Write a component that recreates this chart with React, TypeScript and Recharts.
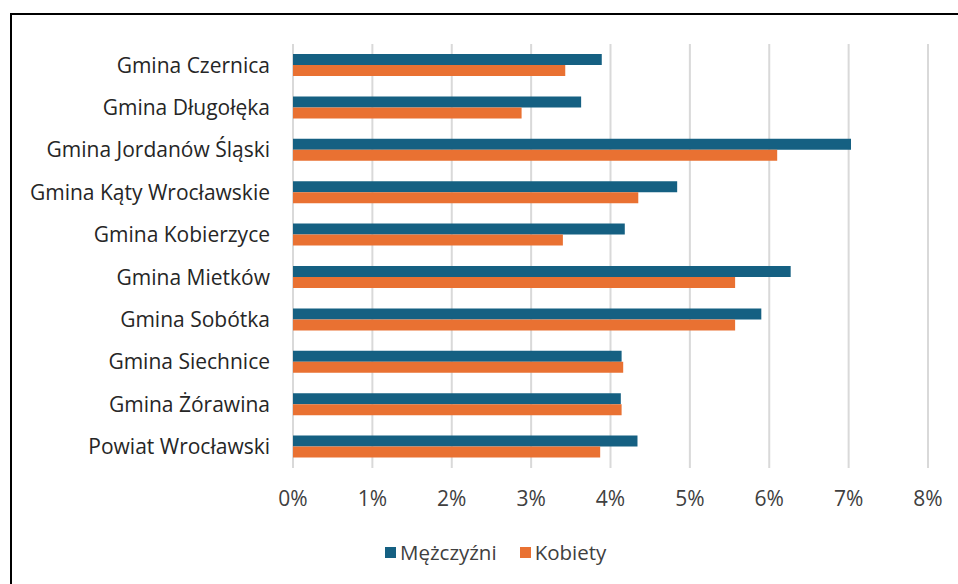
import { Bar, BarChart, CartesianGrid, Legend, XAxis, YAxis } from "recharts";

const gminy = [
  "Gmina Czernica",
  "Gmina Długołęka",
  "Gmina Jordanów Śląski",
  "Gmina Kąty Wrocławskie",
  "Gmina Kobierzyce",
  "Gmina Mietków",
  "Gmina Sobótka",
  "Gmina Siechnice",
  "Gmina Żórawina",
  "Powiat Wrocławski",
];

const mezczyzni = [3.89, 3.63, 7.03, 4.84, 4.18, 6.27, 5.9, 4.14, 4.13, 4.34];
const kobiety = [3.43, 2.88, 6.1, 4.35, 3.4, 5.57, 5.57, 4.16, 4.14, 3.87];

const xTicks = [0, 1, 2, 3, 4, 5, 6, 7, 8];
const seriesOrder = ["m", "k"];

const chartData = gminy.map((name, i) => ({
  name,
  m: mezczyzni[i],
  k: kobiety[i],
}));

const font = "'Open Sans', sans-serif";

function LegendBox(props: any) {
  const items = [...(props.payload || [])].sort(
    (a: any, b: any) => seriesOrder.indexOf(a.dataKey) - seriesOrder.indexOf(b.dataKey)
  );
  return (
    <div style={{ display: "flex", alignItems: "center", fontFamily: font, fontSize: 20.5, color: "#404040" }}>
      {items.map((it: any, i: number) => (
        <div key={i} style={{ display: "flex", alignItems: "center", marginRight: 23 }}>
          <span style={{ display: "inline-block", width: 11, height: 11, background: it.color, marginRight: 4 }} />
          <span>{it.value}</span>
        </div>
      ))}
    </div>
  );
}

export default function App() {
  return (
    <div style={{ position: "fixed", left: 0, top: 0, width: 958, height: 584, overflow: "hidden", background: "#fff" }}>
      <div
        style={{
          position: "absolute",
          left: 10,
          top: 13,
          width: 1100,
          height: 1100,
          border: "2px solid #000",
        }}
      />
      <div style={{ position: "absolute", left: 8, top: 8 }}>
        <BarChart
          width={950}
          height={576}
          data={chartData}
          layout="vertical"
          margin={{ top: 36, right: 30, left: 0, bottom: 76 }}
          barSize={11}
          barGap={0}
        >
          <CartesianGrid horizontal={false} stroke="#d9d9d9" strokeWidth={2} />
          <XAxis
            type="number"
            domain={[0, 8]}
            ticks={xTicks}
            tickFormatter={(v) => `${v}%`}
            axisLine={false}
            tickLine={false}
            tickSize={0}
            tickMargin={23}
            height={40}
            tick={{ fontFamily: font, fontSize: 21, fill: "#404040" }}
          />
          <YAxis
            type="category"
            dataKey="name"
            width={285}
            interval={0}
            axisLine={false}
            tickLine={false}
            tickSize={0}
            tickMargin={23}
            tick={{ fontFamily: font, fontSize: 21, fill: "#262626" }}
          />
          <Legend
            layout="horizontal"
            verticalAlign="middle"
            align="center"
            content={LegendBox}
            wrapperStyle={{ top: 530, left: 377, width: 400, height: 30 }}
          />
          <Bar dataKey="m" name="Mężczyźni" fill="#156082" isAnimationActive={false} />
          <Bar dataKey="k" name="Kobiety" fill="#e97132" isAnimationActive={false} />
        </BarChart>
      </div>
    </div>
  );
}
